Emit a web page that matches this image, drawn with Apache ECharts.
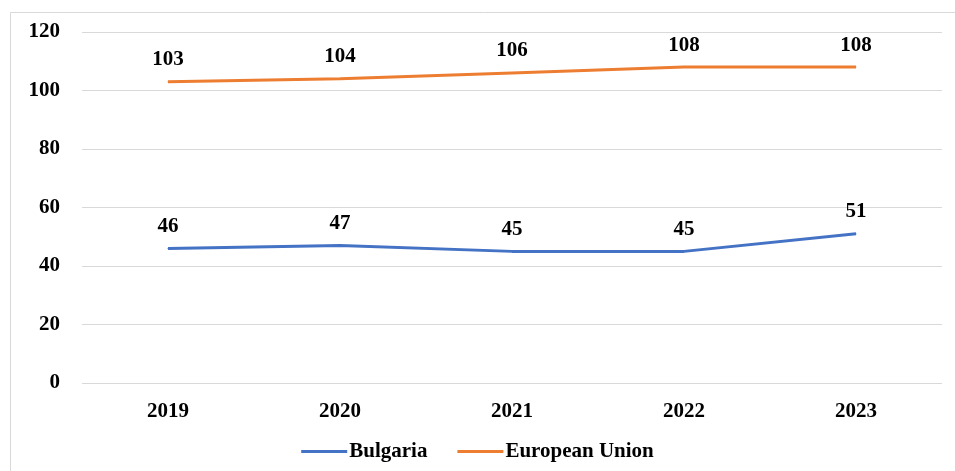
<!DOCTYPE html>
<html lang="en">
<head>
    <meta charset="UTF-8">
    <title>Bulgaria vs EU</title>
    <script src="https://cdn.jsdelivr.net/npm/echarts@6/dist/echarts.min.js"></script>
    <style>body{margin:0;background:#fff;}</style>
</head>
<body>
<div id="main" style="width: 955px;height:471px;"></div>
<script type="text/javascript">
    // data
    var years = ['2019', '2020', '2021', '2022', '2023'];
    var bulgaria = [46, 47, 45, 45, 51];
    var eu = [103, 104, 106, 108, 108];

    var font = '"Liberation Serif", "Times New Roman", serif';
    var txt = {fontFamily: font, fontWeight: 'bold', fontSize: 21, color: '#000'};

    var myChart = echarts.init(document.getElementById('main'));
    var option = {
        backgroundColor: '#fff',
        animation: false,
        graphic: [{
            type: 'rect',
            shape: {x: 10.5, y: 12.5, width: 970, height: 480},
            style: {fill: 'none', stroke: '#d9d9d9', lineWidth: 1}
        }],
        grid: {left: 82, right: 13, top: 32, bottom: 88},
        legend: {
            bottom: 4,
            left: 'center',
            itemWidth: 46,
            itemHeight: 3,
            itemGap: 30,
            icon: 'rect',
            textStyle: Object.assign({}, txt, {padding: [0, 0, 0, -3]}),
            data: ['Bulgaria', 'European Union']
        },
        xAxis: {
            type: 'category',
            data: years,
            axisLine: {show: false},
            axisTick: {show: false},
            axisLabel: Object.assign({}, txt, {margin: 18})
        },
        yAxis: {
            type: 'value',
            min: 0,
            max: 120,
            interval: 20,
            axisLabel: Object.assign({}, txt, {margin: 22}),
            splitLine: {lineStyle: {color: '#d9d9d9', width: 1}}
        },
        series: [
            {
                name: 'Bulgaria',
                type: 'line',
                data: bulgaria,
                symbol: 'circle',
                symbolSize: 1,
                color: '#4472c4',
                lineStyle: {width: 3},
                label: Object.assign({show: true, position: 'top', distance: 11}, txt)
            },
            {
                name: 'European Union',
                type: 'line',
                data: eu,
                symbol: 'circle',
                symbolSize: 1,
                color: '#ed7d31',
                lineStyle: {width: 3},
                label: Object.assign({show: true, position: 'top', distance: 11}, txt)
            }
        ]
    };
    myChart.setOption(option);
</script>
</body>
</html>
